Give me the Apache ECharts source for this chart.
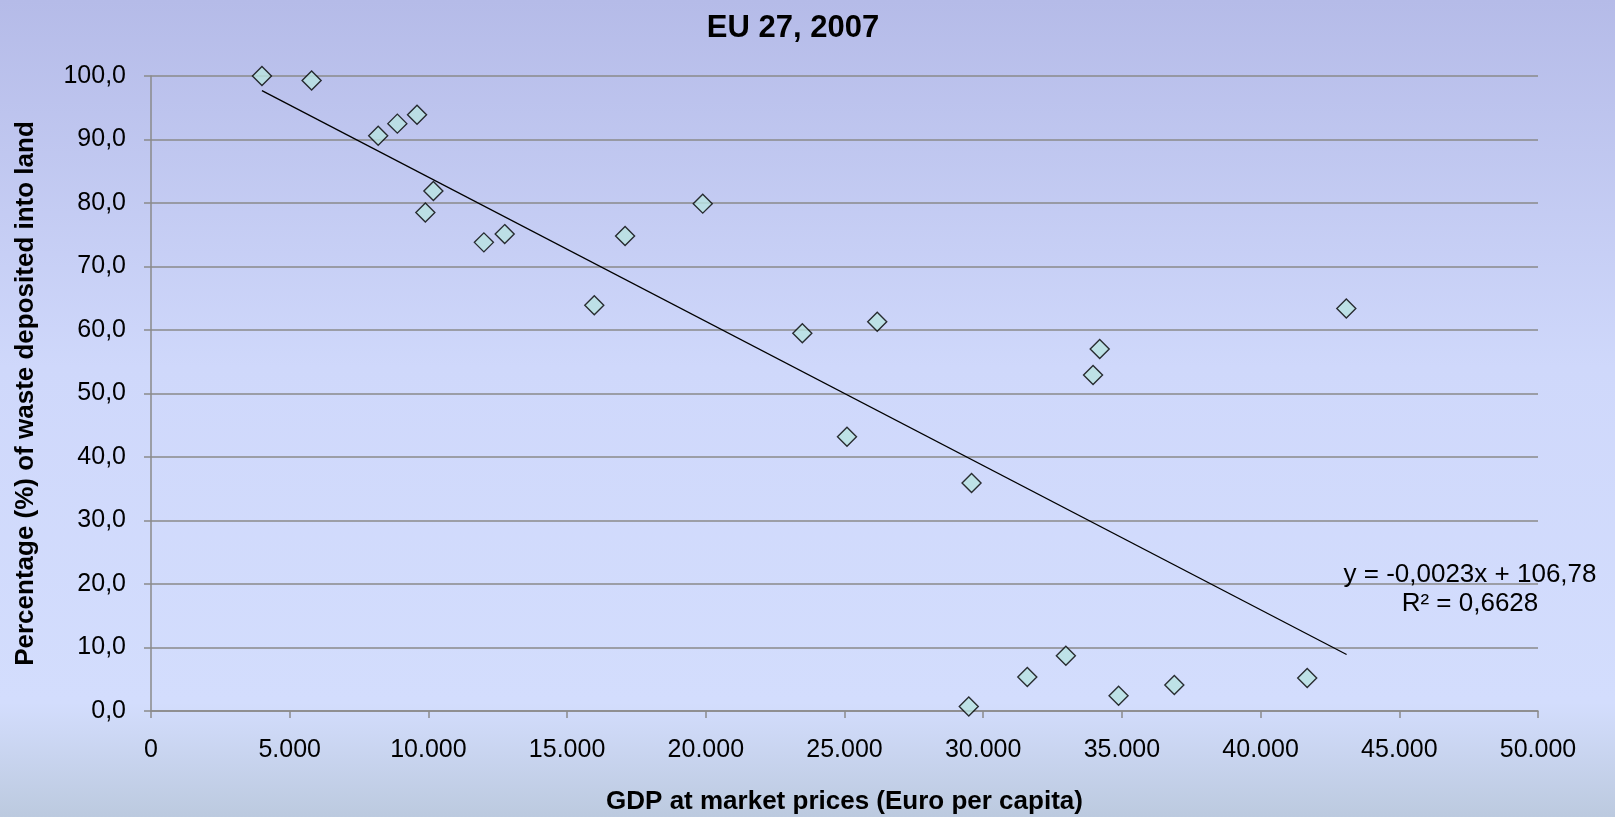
<!DOCTYPE html>
<html>
<head>
<meta charset="utf-8">
<script src="https://cdn.jsdelivr.net/npm/echarts@6/dist/echarts.min.js"></script>
<style>
html,body{margin:0;padding:0;}
#c{width:1615px;height:817px;}
</style>
</head>
<body>
<div id="c"></div>
<script>
// GDP (Euro per capita)
const gdp = [4000, 5790, 8190, 8880, 9590, 10180, 9890, 12000, 12750, 15980, 17090, 19890, 23480, 26180, 25090, 29580, 34200, 33960, 43090, 29480, 31590, 32980, 34880, 36890, 41680];
// Percentage of waste deposited into land
const landfill = [100.0, 99.3, 90.6, 92.5, 93.9, 81.9, 78.5, 73.8, 75.1, 63.9, 74.8, 79.9, 59.5, 61.3, 43.2, 35.9, 57.0, 52.9, 63.4, 0.7, 5.35, 8.7, 2.4, 4.1, 5.2];
// Linear trend line end points (as drawn)
const trendX = [4000, 43100];
const trendY = [97.7, 8.9];
const trendLabel = ["y = -0,0023x + 106,78", "R² = 0,6628"];
const titleText = "EU 27, 2007";
const xName = "GDP at market prices (Euro per capita)";
const yName = "Percentage (%) of waste deposited into land";

const points = gdp.map((g, i) => [g, landfill[i]]);
const trend = trendX.map((x, i) => [x, trendY[i]]);

const font = "'Liberation Sans', Arial, sans-serif";
const chart = echarts.init(document.getElementById('c'));
chart.setOption({
  backgroundColor: {
    type: 'linear', x: 0, y: 0, x2: 0, y2: 1,
    colorStops: [
      {offset: 0, color: '#b5bbe8'},
      {offset: 0.45, color: '#cfd8fb'},
      {offset: 0.86, color: '#d3ddfd'},
      {offset: 1, color: '#bccadf'}
    ]
  },
  animation: false,
  title: {
    text: titleText, left: 788, top: 8, textAlign: 'center',
    textStyle: {fontFamily: font, fontSize: 31, fontWeight: 'bold', color: '#000'}
  },
  grid: {left: 151, right: 77, top: 76, bottom: 106, outerBoundsMode: 'none', containLabel: false},
  xAxis: {
    type: 'value', min: 0, max: 50000, interval: 5000,
    name: xName, nameLocation: 'middle', nameGap: 78,
    nameTextStyle: {fontFamily: font, fontSize: 26, fontWeight: 'bold', color: '#000'},
    axisLine: {show: true, lineStyle: {color: '#8a8a8a', width: 1.5}},
    axisTick: {show: true, length: 7, lineStyle: {color: '#8a8a8a', width: 1.5}},
    splitLine: {show: false},
    axisLabel: {
      fontFamily: font, fontSize: 25, color: '#000', margin: 27,
      formatter: v => v === 0 ? '0' : v.toLocaleString('de-DE')
    }
  },
  yAxis: {
    type: 'value', min: 0, max: 100, interval: 10,
    name: yName, nameLocation: 'middle', nameGap: 112, nameRotate: 90,
    nameTextStyle: {fontFamily: font, fontSize: 26, fontWeight: 'bold', color: '#000'},
    axisLine: {show: true, lineStyle: {color: '#8a8a8a', width: 1.5}},
    axisTick: {show: true, length: 7, lineStyle: {color: '#8a8a8a', width: 1.5}},
    splitLine: {show: true, lineStyle: {color: '#8a8a8a', width: 1.5}},
    axisLabel: {
      fontFamily: font, fontSize: 25, color: '#000', margin: 25,
      formatter: v => v.toFixed(1).replace('.', ',')
    }
  },
  series: [
    {
      type: 'line', data: trend, symbol: 'none', z: 2,
      lineStyle: {color: '#000', width: 1.3}
    },
    {
      type: 'scatter', data: points, symbol: 'diamond', symbolSize: 19, z: 3,
      itemStyle: {color: '#b9e3e1', borderColor: '#000', borderWidth: 1.4}
    }
  ],
  graphic: [
    {type: 'text', x: 1470, y: 562, z: 10, style: {text: trendLabel[0], font: '26px ' + font, fill: '#000', align: 'center', verticalAlign: 'top'}},
    {type: 'text', x: 1470, y: 591, z: 10, style: {text: trendLabel[1], font: '26px ' + font, fill: '#000', align: 'center', verticalAlign: 'top'}}
  ]
});
</script>
</body>
</html>
